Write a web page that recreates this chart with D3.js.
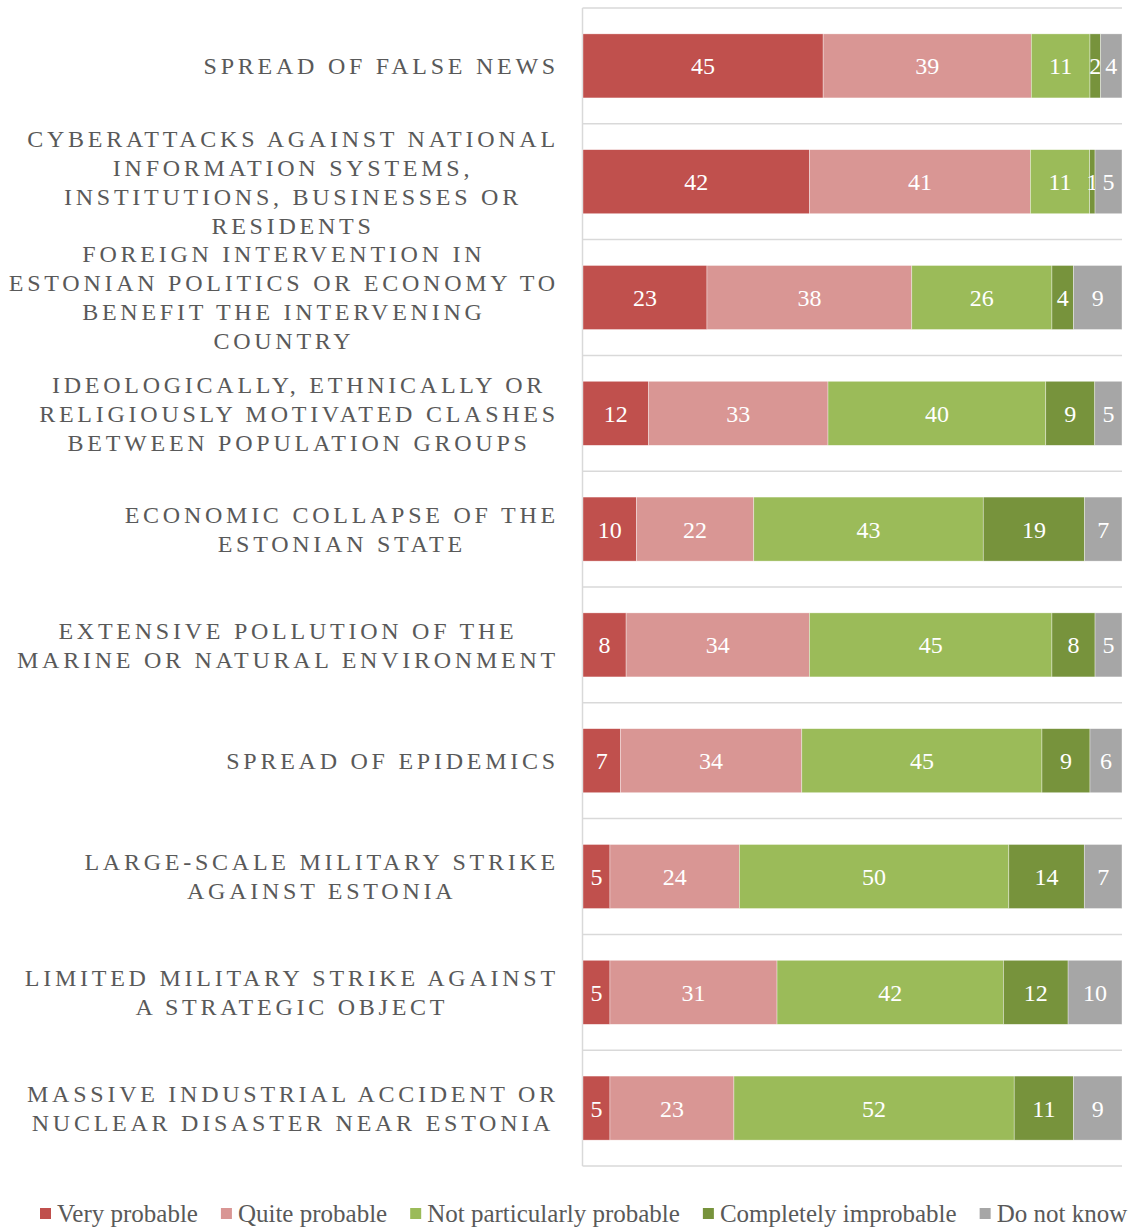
<!DOCTYPE html>
<html><head><meta charset="utf-8">
<script src="https://cdn.jsdelivr.net/npm/d3@7"></script>
<style>body{margin:0;background:#fff} svg{display:block}</style>
</head><body><svg id="c" width="1131" height="1228"></svg>
<script>
const categories = [
  "SPREAD OF FALSE NEWS",
  "CYBERATTACKS AGAINST NATIONAL\nINFORMATION SYSTEMS,\nINSTITUTIONS, BUSINESSES OR\nRESIDENTS",
  "FOREIGN INTERVENTION IN\nESTONIAN POLITICS OR ECONOMY TO\nBENEFIT THE INTERVENING\nCOUNTRY",
  "IDEOLOGICALLY, ETHNICALLY OR\nRELIGIOUSLY MOTIVATED CLASHES\nBETWEEN POPULATION GROUPS",
  "ECONOMIC COLLAPSE OF THE\nESTONIAN STATE",
  "EXTENSIVE POLLUTION OF THE\nMARINE OR NATURAL ENVIRONMENT",
  "SPREAD OF EPIDEMICS",
  "LARGE-SCALE MILITARY STRIKE\nAGAINST ESTONIA",
  "LIMITED MILITARY STRIKE AGAINST\nA STRATEGIC OBJECT",
  "MASSIVE INDUSTRIAL ACCIDENT OR\nNUCLEAR DISASTER NEAR ESTONIA"
];
const seriesNames = ["Very probable","Quite probable","Not particularly probable","Completely improbable","Do not know"];
const veryProbable         = [45,42,23,12,10, 8, 7, 5, 5, 5];
const quiteProbable        = [39,41,38,33,22,34,34,24,31,23];
const notParticularly      = [11,11,26,40,43,45,45,50,42,52];
const completelyImprobable = [ 2, 1, 4, 9,19, 8, 9,14,12,11];
const doNotKnow            = [ 4, 5, 9, 5, 7, 5, 6, 7,10, 9];
const colors = ["#C0504D","#D99694","#9BBB59","#77933C","#A6A6A6"];

(function () {
const seriesValues = [veryProbable, quiteProbable, notParticularly, completelyImprobable, doNotKnow];
const rows = categories.map((c, i) => {
  const r = {cat: c};
  seriesNames.forEach((s, j) => r[s] = seriesValues[j][i]);
  r.total = d3.sum(seriesValues, v => v[i]);
  return r;
});

const FONT = '"Liberation Serif","Times New Roman",serif';
const svg = d3.select("#c");
const pLeft = 582.5, pRight = 1122, pTop = 8, pBottom = 1166;

const x = d3.scaleLinear().domain([0, 1]).range([pLeft + 0.5, pRight]);
const pi = 0.447;
const y = d3.scaleBand().domain(categories).range([pTop, pBottom]).paddingInner(pi).paddingOuter(pi / 2);

const step = y.step();
const gridYs = d3.range(categories.length + 1).map(i => pTop + i * step);
svg.append("g").selectAll("line").data(gridYs).join("line")
  .attr("x1", pLeft).attr("x2", pRight)
  .attr("y1", d => d).attr("y2", d => d)
  .attr("stroke", "#d9d9d9").attr("stroke-width", 1.5);
svg.append("line").attr("x1", pLeft).attr("x2", pLeft).attr("y1", pTop).attr("y2", pBottom)
  .attr("stroke", "#d9d9d9").attr("stroke-width", 1.5);

const stack = d3.stack().keys(seriesNames).value((d, k) => d[k] / d.total);
const stacked = stack(rows);

const layers = svg.append("g").selectAll("g").data(stacked).join("g")
  .attr("fill", (d, i) => colors[i]);
layers.selectAll("rect").data(d => d.map(p => ({p, key: d.key}))).join("rect")
  .attr("x", d => x(d.p[0]))
  .attr("width", d => x(d.p[1]) - x(d.p[0]))
  .attr("y", d => y(d.p.data.cat))
  .attr("height", y.bandwidth())
  .attr("stroke", "#fff").attr("stroke-width", 0.6).attr("stroke-opacity", 0.6);

layers.selectAll("text").data(d => d.map(p => ({p, key: d.key}))).join("text")
  .attr("x", d => (x(d.p[0]) + x(d.p[1])) / 2)
  .attr("y", d => y(d.p.data.cat) + y.bandwidth() / 2)
  .attr("dy", "0.35em")
  .attr("text-anchor", "middle")
  .attr("fill", "#fff")
  .attr("font-family", FONT).attr("font-size", 24)
  .text(d => d.p.data[d.key]);

const labelRight = 557;
const lh = 29;
const ls = 3.75;
const lab = svg.append("g");
categories.forEach(c => {
  const lines = c.split("\n");
  const cy = y(c) + y.bandwidth() / 2;
  const t = lab.append("text")
    .attr("font-family", FONT).attr("font-size", 24)
    .attr("letter-spacing", ls + "px")
    .attr("fill", "#595959")
    .attr("text-anchor", "middle");
  const tsp = lines.map((l, i) => t.append("tspan")
    .attr("y", cy + (i - (lines.length - 1) / 2) * lh)
    .attr("dy", "0.35em")
    .text(l));
  const w = d3.max(tsp, s => s.node().getComputedTextLength()) - ls;
  tsp.forEach(s => s.attr("x", labelRight - w / 2));
});

const lg = svg.append("g");
let lx = 40;
const ly = 1214;
seriesNames.forEach((s, i) => {
  lg.append("rect").attr("x", lx).attr("y", ly - 6).attr("width", 11).attr("height", 11).attr("fill", colors[i]);
  const t = lg.append("text").attr("x", lx + 17).attr("y", ly).attr("dy", "0.33em")
    .attr("font-family", FONT).attr("font-size", 25).attr("fill", "#595959").text(s);
  lx += 17 + t.node().getComputedTextLength() + 23;
});
})();
</script></body></html>
